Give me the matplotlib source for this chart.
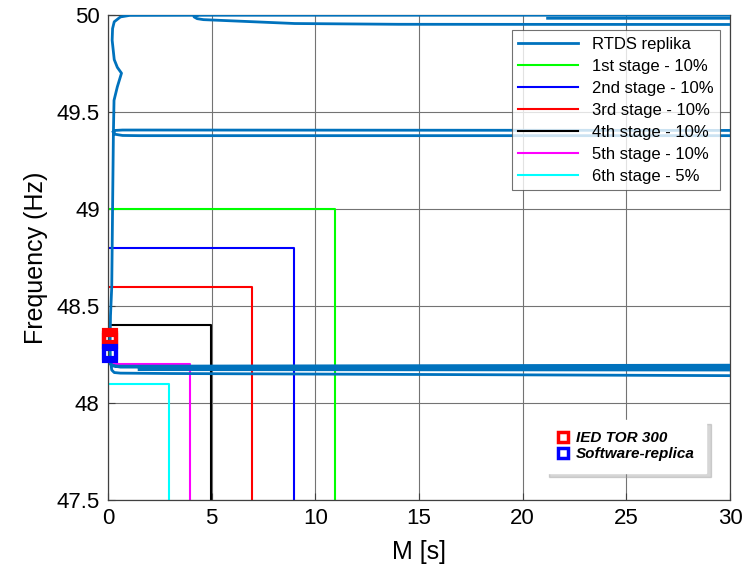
import numpy as np
import matplotlib
matplotlib.use('Agg')
import matplotlib.pyplot as plt
from matplotlib.lines import Line2D

plt.rcParams['font.family'] = ['Liberation Sans Narrow', 'Liberation Sans', 'DejaVu Sans']

nan = np.nan

# RTDS replika trajectory (M [s], frequency [Hz]); pieces split by nan
rtds_m = [30, 1.5, 0.5, 0.3, 0.12, 0.1, 0.12, 0.18, 0.22, 0.26, 0.29, 0.45, 0.65, 0.45, 0.3, 0.2,
          0.22, 0.3, 0.6, 1.05, 5, 30, nan,
          4.3, 4.15, 4.3, 4.6, 9, 14, 30, nan,
          21.2, 30, nan,
          0.26, 0.35, 0.7, 1.5, 30, nan,
          0.26, 0.35, 0.7, 1.5, 30, nan,
          0.3, 0.6, 30, nan,
          0.14, 0.18, 0.3, 0.6, 3, 30, nan,
          1.5, 30]
rtds_f = [48.195, 48.19, 48.19, 48.192, 48.2, 48.3, 48.45, 48.6, 49.0, 49.39, 49.56, 49.63, 49.70, 49.73, 49.77, 49.87,
          49.93, 49.965, 49.99, 49.998, 49.999, 49.999, nan,
          49.998, 49.99, 49.981, 49.976, 49.956, 49.952, 49.951, nan,
          49.983, 49.983, nan,
          49.397, 49.405, 49.407, 49.407, 49.405, nan,
          49.397, 49.385, 49.379, 49.378, 49.378, nan,
          48.19, 48.185, 48.184, nan,
          48.2, 48.17, 48.157, 48.154, 48.152, 48.141, nan,
          48.172, 48.17]

stage_labels = ['1st stage - 10%', '2nd stage - 10%', '3rd stage - 10%',
                '4th stage - 10%', '5th stage - 10%', '6th stage - 5%']
stage_freq = [49.0, 48.8, 48.6, 48.4, 48.2, 48.1]
stage_time = [10.95, 8.95, 6.95, 4.95, 3.95, 2.95]
stage_colors = ['#00ff00', '#0000ff', '#ff0000', '#000000', '#ff00ff', '#00ffff']

ied_m = [0.1, 0.1, 0.1]
ied_f = [48.322, 48.332, 48.345]
soft_m = [0.1, 0.1]
soft_f = [48.248, 48.262]

xticks = [0, 5, 10, 15, 20, 25, 30]
yticks = [47.5, 48, 48.5, 49, 49.5, 50]
ytick_labels = ['47.5', '48', '48.5', '49', '49.5', '50']

fig = plt.figure(figsize=(7.48, 5.74), dpi=100)
ax = fig.add_axes([0.1444, 0.1289, 0.8316, 0.845])

ax.plot(rtds_m, rtds_f, color='#0072BD', lw=2, label='RTDS replika', zorder=3)
for lab, f, t, c in zip(stage_labels, stage_freq, stage_time, stage_colors):
    ax.plot([0, t, t], [f, f, 47.5], color=c, lw=1.5, label=lab, zorder=2)

ax.plot(ied_m, ied_f, ls='none', marker='s', ms=8, mfc='none', mec='#ff0000', mew=3,
        zorder=5, clip_on=False)
ax.plot(soft_m, soft_f, ls='none', marker='s', ms=8, mfc='none', mec='#0000ff', mew=3,
        zorder=5, clip_on=False)

ax.set_xlim(0, 30)
ax.set_ylim(47.5, 50)
ax.set_xticks(xticks)
ax.set_yticks(yticks)
ax.set_yticklabels(ytick_labels)
ax.tick_params(direction='in', labelsize=16, length=5, color='0.25', pad=6)
ax.grid(True, color='0.45', lw=0.8)
ax.set_axisbelow(True)
for s in ax.spines.values():
    s.set_color('0.25')
    s.set_linewidth(0.9)

ax.set_xlabel('M [s]', fontsize=18, labelpad=8)
ax.set_ylabel('Frequency (Hz)', fontsize=18, labelpad=6)

leg1 = ax.legend(loc='upper right', bbox_to_anchor=(0.984, 0.969), borderaxespad=0,
                 frameon=True, fancybox=False, edgecolor='0.3', handlelength=3.6,
                 borderpad=0.4, labelspacing=0.42,
                 prop={'family': ['Liberation Sans', 'DejaVu Sans'], 'size': 12})
leg1.get_frame().set_linewidth(0.8)
ax.add_artist(leg1)

h2 = [Line2D([], [], ls='none', marker='s', ms=7, mfc='none', mec='#ff0000', mew=2.5),
      Line2D([], [], ls='none', marker='s', ms=7, mfc='none', mec='#0000ff', mew=2.5)]
leg2 = ax.legend(h2, ['IED TOR 300', 'Software-replica'], loc='lower right',
                 bbox_to_anchor=(0.962, 0.056), borderaxespad=0, frameon=True, fancybox=False,
                 shadow={'color': '0.6', 'alpha': 0.4, 'ox': 3, 'oy': -3},
                 edgecolor='white', handlelength=0.9, handletextpad=0.4, labelspacing=0.15,
                 borderpad=0.75, prop={'family': ['Liberation Sans', 'DejaVu Sans'],
                                       'size': 11, 'weight': 'bold', 'style': 'italic'})

fig.savefig('out.png', dpi=100)
